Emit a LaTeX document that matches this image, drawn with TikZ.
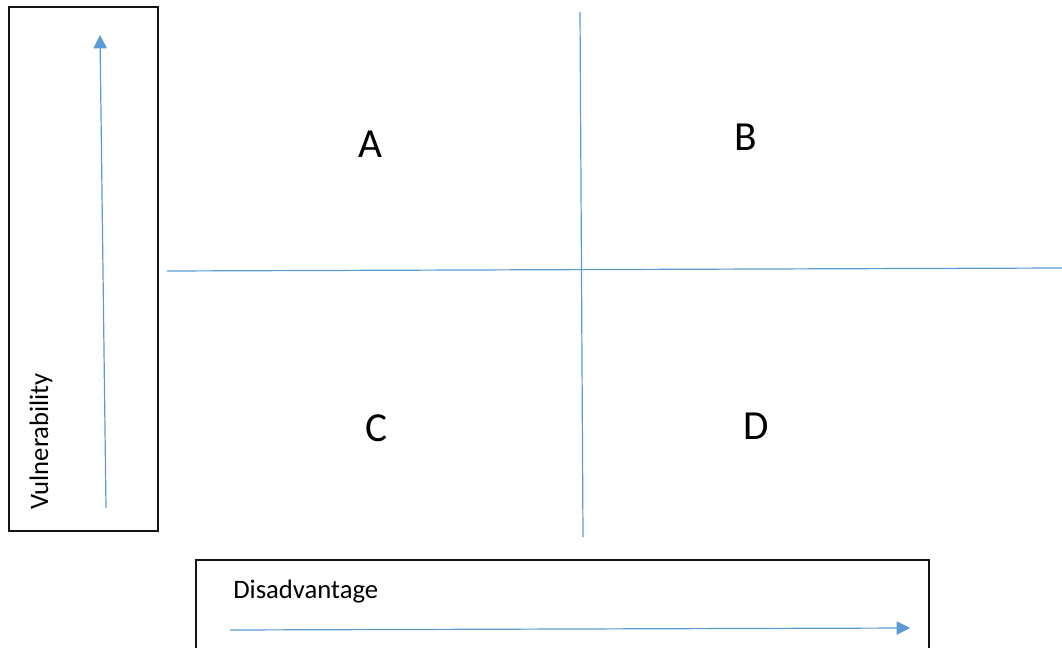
\documentclass[tikz,border=0pt]{standalone}
\usepackage{fontspec}
\setmainfont{Carlito}
\usepackage{xcolor}
\usepackage{tikz}
\usetikzlibrary{arrows.meta, positioning, calc}
\definecolor{axisblue}{RGB}{91, 155, 213}
\definecolor{framegray}{RGB}{20, 20, 20}

\begin{document}
\begin{tikzpicture}[x=0.75pt, y=-0.75pt,
    framebox/.style={draw=framegray, line width=1.2pt},
    quadline/.style={draw=axisblue, line width=0.9pt},
    arrow/.style={-{Triangle[length=10pt, width=10pt]}, axisblue, line width=0.9pt},
    quadlabel/.style={inner sep=0pt, font=\fontsize{31}{36}\selectfont},
    axislabel/.style={inner sep=0pt, font=\fontsize{20}{24}\selectfont}
]
    \useasboundingbox (0, 0) rectangle (1062, 648);

    % Vulnerability frame
    \node[framebox, minimum width=149*0.75pt, minimum height=524*0.75pt, inner sep=0pt, anchor=north west] (vframe) at (8, 6) {};
    \coordinate (vlow) at (106, 508);
    \coordinate (vhigh) at (100, 35);
    \draw[arrow] (vlow) -- (vhigh);
    \node[axislabel, rotate=90, anchor=base west] (vlabel) at (48, 510) {Vulnerability};

    % Disadvantage frame (open at the bottom)
    \coordinate (dbl) at (196, 650);
    \coordinate (dtl) at (196, 560);
    \coordinate (dtr) at (929, 560);
    \coordinate (dbr) at (929, 650);
    \draw[framebox] (dbl) -- (dtl) -- (dtr) -- (dbr);
    \node[axislabel, anchor=base west] (dlabel) at (233, 598) {Disadvantage};
    \coordinate (dlow) at (230, 630);
    \coordinate (dhigh) at (910, 628);
    \draw[arrow] (dlow) -- (dhigh);

    % Quadrant lines
    \coordinate (vtop) at (580, 12);
    \coordinate (vbot) at (583, 537);
    \coordinate (hleft) at (167, 271);
    \coordinate (hright) at (1062, 268);
    \draw[quadline] (vtop) -- (vbot);
    \draw[quadline] (hleft) -- (hright);

    % Quadrant labels
    \node[quadlabel] (qa) at (370, 144) {A};
    \node[quadlabel] (qb) at (746, 137) {B};
    \node[quadlabel] (qc) at (377, 428) {C};
    \node[quadlabel] (qd) at (756, 426) {D};
\end{tikzpicture}
\end{document}
